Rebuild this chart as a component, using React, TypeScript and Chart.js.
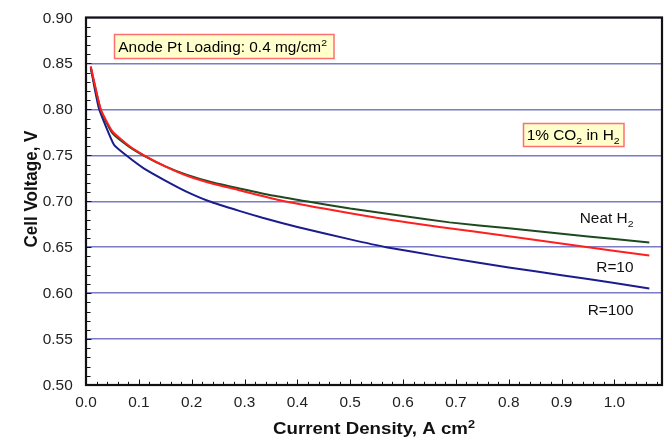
import React, { useEffect, useRef } from 'react';
import { Chart, registerables } from 'chart.js';

Chart.register(...registerables);

// Polarization curves: current density (A/cm2) vs cell voltage (V)
const currentNeat = [0.009, 0.028, 0.05, 0.08, 0.11, 0.15, 0.19, 0.24, 0.29, 0.35, 0.417, 0.5, 0.6, 0.688, 0.8, 0.9, 1.0, 1.066];
const voltageNeat = [0.845, 0.799, 0.774, 0.76, 0.7495, 0.738, 0.729, 0.7205, 0.714, 0.7065, 0.7, 0.692, 0.684, 0.677, 0.6705, 0.6645, 0.659, 0.655];

const currentR10 = [0.009, 0.028, 0.05, 0.08, 0.11, 0.15, 0.19, 0.24, 0.29, 0.36, 0.45, 0.55, 0.669, 0.8, 0.93, 1.066];
const voltageR10 = [0.847, 0.8, 0.776, 0.761, 0.75, 0.738, 0.728, 0.719, 0.712, 0.702, 0.692, 0.682, 0.672, 0.662, 0.6515, 0.641];

const currentR100 = [0.009, 0.016, 0.025, 0.053, 0.076, 0.11, 0.15, 0.19, 0.233, 0.29, 0.334, 0.4, 0.5, 0.568, 0.669, 0.8, 0.9, 1.0, 1.066];
const voltageR100 = [0.846, 0.824, 0.8, 0.7615, 0.75, 0.7355, 0.7225, 0.7105, 0.7, 0.6895, 0.682, 0.672, 0.6585, 0.65, 0.64, 0.628, 0.6195, 0.611, 0.605];

const xTickValues = [0, 0.1, 0.2, 0.3, 0.4, 0.5, 0.6, 0.7, 0.8, 0.9, 1.0];
const yTickValues = [0.5, 0.55, 0.6, 0.65, 0.7, 0.75, 0.8, 0.85, 0.9];

const X_MIN = 0;
const X_MAX = 1.09;
const Y_MIN = 0.5;
const Y_MAX = 0.9;

const FONT = '"Liberation Sans", Arial, Helvetica, sans-serif';
const STRETCH = 1.1;

type Seg = { t: string; sub?: boolean; sup?: boolean };

const fontOf = (size: number, bold: boolean) => `${bold ? 'bold ' : ''}${size}px ${FONT}`;

function segSize(s: Seg, size: number) {
  return s.sub || s.sup ? size * 0.68 : size;
}

function richWidth(ctx: CanvasRenderingContext2D, segs: Seg[], size: number, bold: boolean) {
  let w = 0;
  for (const s of segs) {
    ctx.font = fontOf(segSize(s, size), bold);
    w += ctx.measureText(s.t).width;
  }
  return w;
}

function drawRich(
  ctx: CanvasRenderingContext2D,
  segs: Seg[],
  x: number,
  y: number,
  size: number,
  align: 'left' | 'right' | 'center',
  bold = false,
  color = '#000'
) {
  const w = richWidth(ctx, segs, size, bold) * STRETCH;
  const start = align === 'left' ? x : align === 'right' ? x - w : x - w / 2;
  ctx.save();
  ctx.translate(start, y);
  ctx.scale(STRETCH, 1);
  ctx.fillStyle = color;
  ctx.textAlign = 'left';
  ctx.textBaseline = 'alphabetic';
  let cx = 0;
  for (const s of segs) {
    ctx.font = fontOf(segSize(s, size), bold);
    const dy = s.sub ? size * 0.28 : s.sup ? -size * 0.36 : 0;
    ctx.fillText(s.t, cx, dy);
    cx += ctx.measureText(s.t).width;
  }
  ctx.restore();
}

function drawBox(
  ctx: CanvasRenderingContext2D,
  x: number,
  y: number,
  w: number,
  h: number,
  segs: Seg[],
  textX: number,
  baseline: number
) {
  ctx.save();
  ctx.fillStyle = '#ffffcc';
  ctx.fillRect(x, y, w, h);
  ctx.strokeStyle = '#ff6f6f';
  ctx.lineWidth = 1.5;
  ctx.strokeRect(x, y, w, h);
  ctx.restore();
  drawRich(ctx, segs, textX, baseline, 14, 'left');
}

const decorations = {
  id: 'decorations',
  afterDatasetsDraw(chart: any) {
    const ctx: CanvasRenderingContext2D = chart.ctx;
    const { left, right, top, bottom } = chart.chartArea;
    const xs = chart.scales.x;
    const ys = chart.scales.y;

    ctx.save();
    // inward tick marks
    ctx.strokeStyle = '#111';
    ctx.lineWidth = 1;
    ctx.beginPath();
    for (let i = 1; i * 0.02 <= X_MAX + 1e-9; i++) {
      const v = i * 0.02;
      const px = Math.round(xs.getPixelForValue(v)) + 0.5;
      const len = i % 5 === 0 ? 5.5 : 3.2;
      ctx.moveTo(px, bottom);
      ctx.lineTo(px, bottom - len);
    }
    for (let i = 1; i < 40; i++) {
      const v = Y_MIN + i * 0.01;
      const py = Math.round(ys.getPixelForValue(v)) + 0.5;
      const len = i % 5 === 0 ? 5.5 : 4.5;
      ctx.moveTo(left, py);
      ctx.lineTo(left + len, py);
    }
    ctx.stroke();

    // plot frame
    ctx.strokeStyle = '#111';
    ctx.lineWidth = 2.2;
    ctx.strokeRect(left, top, right - left, bottom - top);
    ctx.restore();

    // tick labels
    for (const v of yTickValues) {
      drawRich(ctx, [{ t: v.toFixed(2) }], left - 13.3, ys.getPixelForValue(v) + 5, 14, 'right', false, '#222');
    }
    for (const v of xTickValues) {
      drawRich(ctx, [{ t: v.toFixed(1) }], xs.getPixelForValue(v), bottom + 22.3, 14, 'center', false, '#222');
    }

    // axis titles
    drawRich(ctx, [{ t: 'Current Density, A cm' }, { t: '2', sup: true }], 374, 434, 17, 'center', true, '#111');
    ctx.save();
    ctx.translate(36.7, 189);
    ctx.rotate(-Math.PI / 2);
    ctx.scale(1, STRETCH);
    ctx.font = fontOf(17, true);
    ctx.fillStyle = '#111';
    ctx.textAlign = 'center';
    ctx.textBaseline = 'alphabetic';
    ctx.fillText('Cell Voltage, V', 0, 0);
    ctx.restore();

    // curve labels
    drawRich(ctx, [{ t: 'Neat H' }, { t: '2', sub: true }], 633.5, 222.7, 14, 'right', false, '#111');
    drawRich(ctx, [{ t: 'R=10' }], 633.5, 271.7, 14, 'right', false, '#111');
    drawRich(ctx, [{ t: 'R=100' }], 633.5, 315, 14, 'right', false, '#111');

    // annotation boxes
    drawBox(ctx, 114.5, 34.5, 219.5, 24, [{ t: 'Anode Pt Loading: 0.4 mg/cm' }, { t: '2', sup: true }], 118.3, 51.5);
    drawBox(ctx, 523.5, 123.5, 100.5, 23, [{ t: '1% CO' }, { t: '2', sub: true }, { t: ' in H' }, { t: '2', sub: true }], 526.7, 140);
  },
};

const toPoints = (xs: number[], ys: number[]) => xs.map((x, i) => ({ x, y: ys[i] }));

const lineStyle = { borderWidth: 2, pointRadius: 0, fill: false, tension: 0.15 };

export default function App() {
  const canvasRef = useRef<HTMLCanvasElement | null>(null);

  useEffect(() => {
    const canvas = canvasRef.current;
    if (!canvas) return;
    const chart = new Chart(canvas, {
      type: 'line',
      data: {
        datasets: [
          { label: 'R=10', data: toPoints(currentR10, voltageR10), borderColor: '#ff1f1f', ...lineStyle },
          { label: 'Neat H2', data: toPoints(currentNeat, voltageNeat), borderColor: '#1f4a1f', ...lineStyle },
          { label: 'R=100', data: toPoints(currentR100, voltageR100), borderColor: '#1c1c8e', ...lineStyle },
        ],
      },
      options: {
        animation: false,
        responsive: false,
        events: [],
        layout: { padding: { left: 0, top: 17.5, right: 5, bottom: 0 } },
        plugins: {
          legend: { display: false },
          tooltip: { enabled: false },
        },
        scales: {
          x: {
            type: 'linear',
            min: X_MIN,
            max: X_MAX,
            ticks: { display: false },
            grid: { display: false },
            border: { display: false },
            afterFit: (s: any) => {
              s.height = 53;
            },
          },
          y: {
            type: 'linear',
            min: Y_MIN,
            max: Y_MAX,
            ticks: { display: false, stepSize: 0.05 },
            grid: { color: '#7b7bc6', lineWidth: 1.5, drawTicks: false },
            border: { display: false },
            afterFit: (s: any) => {
              s.width = 86;
            },
          },
        },
      },
      plugins: [decorations],
    } as any);
    return () => chart.destroy();
  }, []);

  return (
    <div style={{ position: 'absolute', left: 0, top: 0, width: 667, height: 438, background: '#fff' }}>
      <canvas ref={canvasRef} width={667} height={438} style={{ display: 'block', width: 667, height: 438 }} />
    </div>
  );
}
